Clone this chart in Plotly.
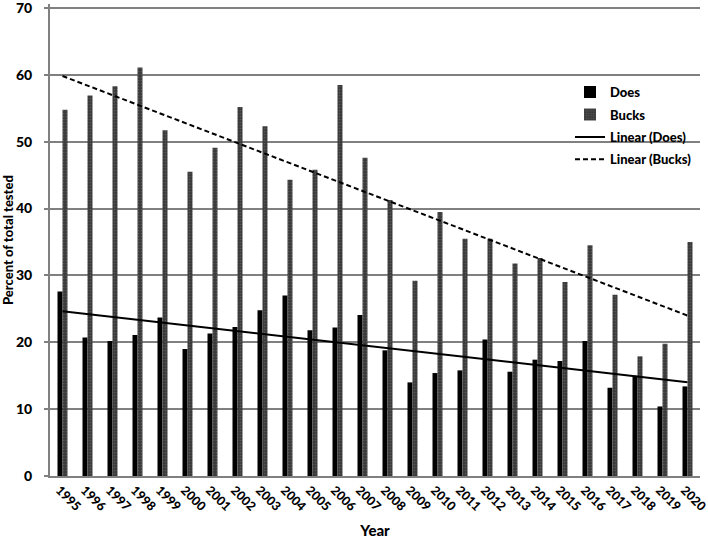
import numpy as np
import plotly.graph_objects as go

years = [str(y) for y in range(1995, 2021)]
does = [27.6, 20.7, 20.2, 21.1, 23.7, 19.0, 21.3, 22.3, 24.8, 27.0, 21.8, 22.2, 24.1,
        18.8, 14.0, 15.4, 15.8, 20.4, 15.6, 17.4, 17.2, 20.2, 13.2, 15.0, 10.4, 13.4]
bucks = [54.8, 56.9, 58.3, 61.1, 51.7, 45.5, 49.1, 55.2, 52.3, 44.3, 45.8, 58.5, 47.6,
         41.3, 29.2, 39.5, 35.5, 35.5, 31.8, 32.6, 29.0, 34.5, 27.1, 17.9, 19.8, 35.0]
y_ticks = [0, 10, 20, 30, 40, 50, 60, 70]

idx = np.arange(len(years))
def trend(v):
    m, b = np.polyfit(idx, v, 1)
    return (m * idx + b).tolist()

FONT = "Lato"
W = 900
L, R, T, B = 50, 8, 4, 63
PW = 708 - L - R

fig = go.Figure()
fig.add_trace(go.Bar(x=years, y=does, name="Does", legendgroup="a",
                     marker=dict(color="#000000", line_width=0)))
fig.add_trace(go.Bar(x=years, y=bucks, name="Bucks", legendgroup="b",
                     marker=dict(color="#404040", line_width=0,
                                 pattern=dict(shape=".", fgcolor="#777777", bgcolor="#3a3a3a", size=3, solidity=0.25))))
fig.add_trace(go.Scatter(x=years, y=trend(does), name="Linear (Does)", mode="lines", legendgroup="c",
                         line=dict(color="black", width=2)))
fig.add_trace(go.Scatter(x=years, y=trend(bucks), name="Linear (Bucks)", mode="lines", legendgroup="d",
                         line=dict(color="black", width=2, dash="5px,3px")))

fig.update_layout(
    width=708, height=539,
    margin=dict(l=L, r=R, t=T, b=B),
    paper_bgcolor="white", plot_bgcolor="white",
    barmode="group", bargap=0.6, bargroupgap=0,
    font=dict(family=FONT, color="black"),
    showlegend=True,
    legend=dict(x=0.80, y=0.845, xanchor="left", yanchor="top",
                font=dict(size=13, family=FONT, weight=W),
                bgcolor="rgba(0,0,0,0)", tracegroupgap=2.5),
    xaxis=dict(type="category", showline=True, linecolor="#808080", linewidth=2, automargin=False,
               showgrid=False, tickangle=45, ticks="", ticklabelshift=-3,
               tickfont=dict(size=12.5, family=FONT, weight=W),
               title=dict(text="Year", font=dict(size=15, family=FONT, weight=W), standoff=14)),
    yaxis=dict(range=[0, 70.6], tickvals=y_ticks, showline=True, linecolor="#808080", linewidth=2,
               automargin=False,
               showgrid=True, gridcolor="#808080", gridwidth=1.5, zeroline=False,
               ticks="outside", ticklen=4, tickcolor="#808080", tickwidth=1.5,
               ticklabelstandoff=9, ticklabeloverflow="allow",
               tickfont=dict(size=14, family=FONT, weight=W)),
    annotations=[dict(text="Percent of total tested", xref="paper", yref="paper",
                      x=-(L - 8) / PW, y=0.5, xanchor="center", yanchor="middle",
                      textangle=-90, showarrow=False,
                      font=dict(size=13, family=FONT, weight=W, color="black"))],
)
fig.write_html("out.html", config={"displayModeBar": False},
               post_script="document.body.style.margin='0';")
